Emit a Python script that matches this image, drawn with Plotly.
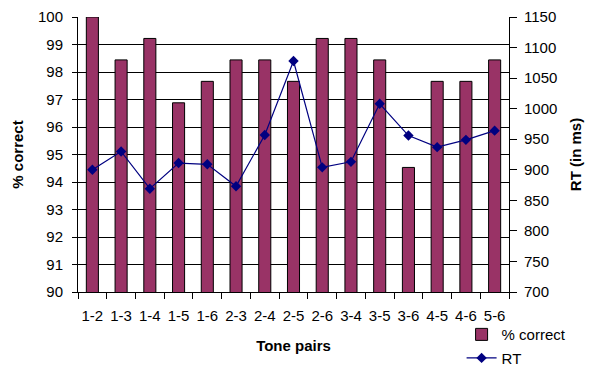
import plotly.graph_objects as go

categories = ["1-2","1-3","1-4","1-5","1-6","2-3","2-4","2-5","2-6","3-4","3-5","3-6","4-5","4-6","5-6"]
pct_correct = [100, 98.44, 99.22, 96.88, 97.66, 98.44, 98.44, 97.66, 99.22, 99.22, 98.44, 94.53, 97.66, 97.66, 98.44]
rt_ms = [900, 930, 869, 911, 909, 873, 957, 1078, 904, 913, 1008, 956, 937, 949, 964]

FONT = "Liberation Sans, Arial, sans-serif"

fig = go.Figure()
fig.add_trace(go.Bar(
    x=categories, y=pct_correct, name="% correct", legendgroup="a",
    marker=dict(color="#993366", line=dict(color="black", width=1)),
))
fig.add_trace(go.Scatter(
    x=categories, y=rt_ms, name="RT", yaxis="y2", mode="lines+markers", legendgroup="b",
    line=dict(color="#000080", width=1.2),
    marker=dict(symbol="diamond", size=8, color="#000080"),
))

fig.update_layout(
    width=591, height=369,
    margin=dict(l=78, r=82, t=17, b=77, autoexpand=False),
    paper_bgcolor="white", plot_bgcolor="white",
    font=dict(family=FONT, size=15, color="black"),
    bargap=0.58,
    showlegend=True,
    legend=dict(x=0.89, y=-0.095, xanchor="left", yanchor="top",
                font=dict(size=15), bgcolor="rgba(0,0,0,0)",
                tracegroupgap=1, itemwidth=30),
    xaxis=dict(
        title=dict(text="<b>Tone pairs</b>", standoff=17, font=dict(size=15)),
        type="category", range=[-0.5, len(categories) - 0.5],
        tickson="boundaries", ticks="outside", ticklen=6,
        tickcolor="black", showline=True, linecolor="black", linewidth=1,
        showgrid=False, tickfont=dict(size=15), tickangle=0, automargin=False,
        ticklabelstandoff=10,
    ),
    yaxis=dict(
        title=dict(text="<b>% correct</b>", standoff=10, font=dict(size=15)),
        range=[90, 100], dtick=1, ticks="outside", ticklen=5, tickcolor="black",
        showline=True, linecolor="black", linewidth=1,
        showgrid=True, gridcolor="black", gridwidth=1, zeroline=False,
        tickfont=dict(size=15), automargin=False, ticklabelstandoff=6,
    ),
    yaxis2=dict(
        title=dict(text="<b>RT (in ms)</b>", standoff=14, font=dict(size=15)),
        range=[700, 1150], dtick=50, overlaying="y", side="right",
        ticks="outside", ticklen=7, tickcolor="black",
        showline=True, linecolor="black", linewidth=1,
        showgrid=False, zeroline=False, tickfont=dict(size=15), automargin=False,
        ticklabelstandoff=4,
    ),
)

fig.write_html("out.html", config={"displayModeBar": False},
               post_script="document.body.style.margin='0';document.body.style.overflow='hidden';")
